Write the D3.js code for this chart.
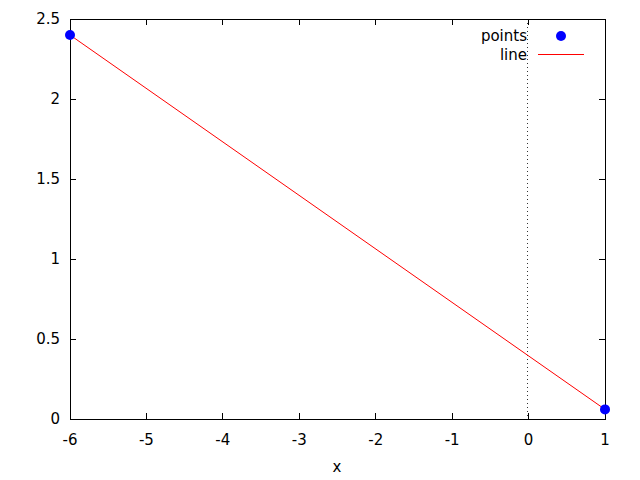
<!DOCTYPE html>
<meta charset="utf-8">
<script src="https://cdn.jsdelivr.net/npm/d3@7"></script>
<style>
  body { margin: 0; background: #fff; }
  text { font-family: "DejaVu Sans", sans-serif; font-size: 15px; fill: #000; }
</style>
<body>
<svg width="640" height="480"></svg>
<script>
// data
var pointsX = [-6, 1],
    pointsY = [2.4, 0.06];
var lineX = [-6, 1],
    lineY = [2.4, 0.06];
var xTicks = [-6, -5, -4, -3, -2, -1, 0, 1],
    yTicks = [0, 0.5, 1, 1.5, 2, 2.5];

var plotLeft = 70, plotRight = 605, plotTop = 19, plotBottom = 419;

var svg = d3.select("svg");

var x = d3.scaleLinear().domain([-6, 1]).range([plotLeft, plotRight]);
var y = d3.scaleLinear().domain([0, 2.5]).range([plotBottom, plotTop]);

var tickLen = 6;

// zero axis (dotted)
svg.append("line")
    .attr("x1", Math.floor(x(0)) - 0.5).attr("x2", Math.floor(x(0)) - 0.5)
    .attr("y1", plotTop).attr("y2", plotBottom)
    .attr("stroke", "#333").attr("stroke-width", 1)
    .attr("stroke-dasharray", "1,3");

// ticks, mirrored inward on all sides
var g = svg.append("g").attr("shape-rendering", "crispEdges");
xTicks.forEach(function(t) {
  g.append("line").attr("x1", x(t)).attr("x2", x(t)).attr("y1", plotBottom).attr("y2", plotBottom - tickLen).attr("stroke", "#000");
  g.append("line").attr("x1", x(t)).attr("x2", x(t)).attr("y1", plotTop).attr("y2", plotTop + tickLen).attr("stroke", "#000");
  svg.append("text").attr("x", x(t)).attr("y", 445).attr("text-anchor", "middle").text(String(t));
});
yTicks.forEach(function(t) {
  g.append("line").attr("x1", plotLeft).attr("x2", plotLeft + tickLen).attr("y1", y(t)).attr("y2", y(t)).attr("stroke", "#000");
  g.append("line").attr("x1", plotRight).attr("x2", plotRight - tickLen).attr("y1", y(t)).attr("y2", y(t)).attr("stroke", "#000");
  svg.append("text").attr("x", 60).attr("y", y(t) + 5).attr("text-anchor", "end").text(String(t));
});

// border
g.append("rect")
    .attr("x", plotLeft).attr("y", plotTop)
    .attr("width", plotRight - plotLeft).attr("height", plotBottom - plotTop)
    .attr("fill", "none").attr("stroke", "#000");

// line
var lineData = lineX.map(function(d, i) { return [d, lineY[i]]; });
svg.append("path")
    .datum(lineData)
    .attr("fill", "none").attr("stroke", "#ff0000").attr("stroke-width", 1)
    .attr("d", d3.line().x(function(d) { return x(d[0]); }).y(function(d) { return y(d[1]); }));

// points
svg.selectAll(".pt")
    .data(pointsX.map(function(d, i) { return [d, pointsY[i]]; }))
    .enter().append("circle")
    .attr("class", "pt")
    .attr("cx", function(d) { return x(d[0]); })
    .attr("cy", function(d) { return y(d[1]); })
    .attr("r", 5)
    .attr("fill", "#0000ff");

// legend
svg.append("text").attr("x", 527).attr("y", 41).attr("text-anchor", "end").text("points");
svg.append("circle").attr("cx", 561).attr("cy", 36).attr("r", 5).attr("fill", "#0000ff");
svg.append("text").attr("x", 527).attr("y", 60).attr("text-anchor", "end").text("line");
svg.append("line").attr("x1", 538).attr("x2", 584).attr("y1", 54.5).attr("y2", 54.5).attr("stroke", "#ff0000");

// axis label
svg.append("text").attr("x", 337).attr("y", 472).attr("text-anchor", "middle").text("x");
</script>
</body>
